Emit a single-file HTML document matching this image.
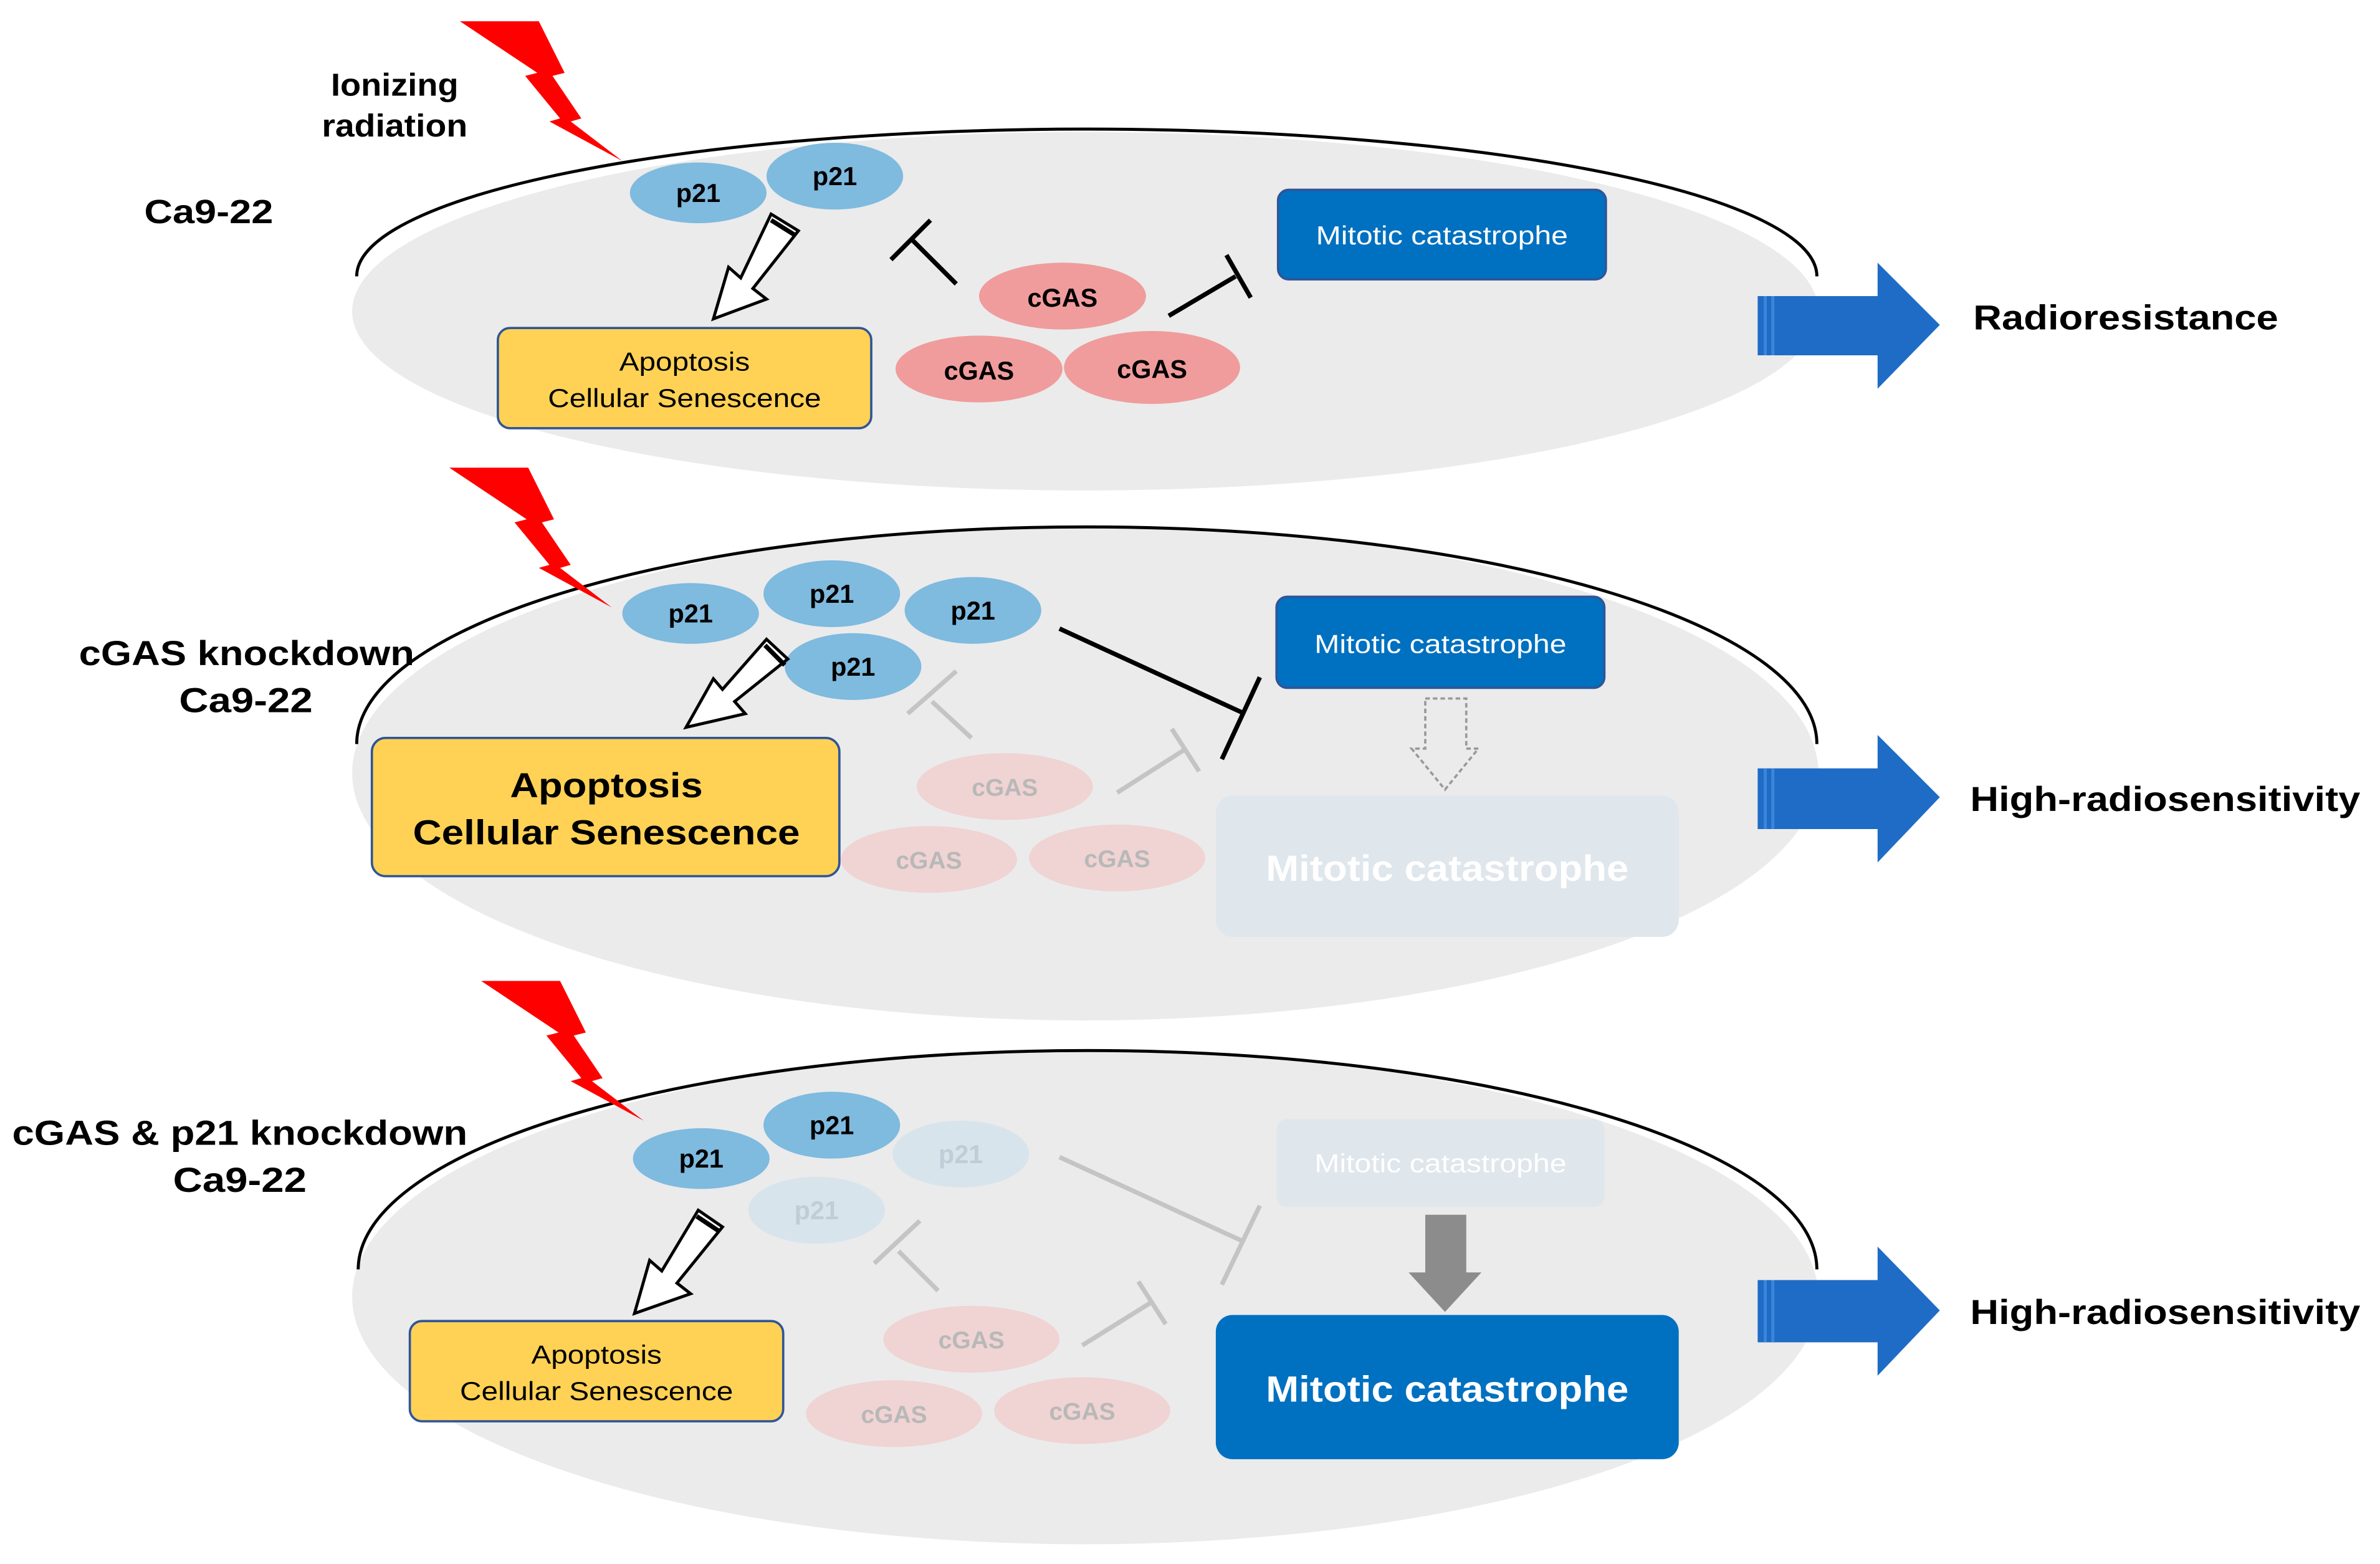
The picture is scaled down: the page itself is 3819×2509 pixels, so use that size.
<!DOCTYPE html>
<html><head><meta charset="utf-8"><style>
html,body{margin:0;padding:0;background:#fff;}
svg{display:block;}
text{font-family:"Liberation Sans",Arial,sans-serif;}
</style></head><body>
<svg width="3819" height="2509" viewBox="0 0 1568 1030" preserveAspectRatio="none" xmlns="http://www.w3.org/2000/svg">

<!-- ===== CELL 1 ===== -->
<ellipse cx="715" cy="205" rx="483" ry="118" fill="#ebebeb"/>
<path d="M235,182 A481,97 0 0 1 1197,182" fill="none" stroke="#000" stroke-width="2"/>
<polygon points="303,14 355,14 372,48 364,50 383,78 376,80 410,106 362,80 369,78 346,50 354,48" fill="#ff0000"/>
<text x="218" y="63" font-size="21" font-weight="bold" textLength="84" lengthAdjust="spacingAndGlyphs">Ionizing</text>
<text x="212" y="90" font-size="21" font-weight="bold" textLength="96" lengthAdjust="spacingAndGlyphs">radiation</text>
<text x="95" y="147" font-size="22" font-weight="bold" textLength="85" lengthAdjust="spacingAndGlyphs">Ca9-22</text>
<ellipse cx="460" cy="127" rx="45" ry="20" fill="#7fbadf"/>
<text x="460" y="133" font-size="17" font-weight="bold" text-anchor="middle">p21</text>
<ellipse cx="550" cy="116" rx="45" ry="22" fill="#7fbadf"/>
<text x="550" y="122" font-size="17" font-weight="bold" text-anchor="middle">p21</text>
<polygon points="508,141 526,152 496,190 505,197 470,210 480,176 488,183" fill="#fff" stroke="#000" stroke-width="2"/>
<line x1="508" y1="145" x2="524" y2="155" stroke="#000" stroke-width="3"/>
<rect x="328" y="216" width="246" height="66" rx="8" fill="#ffd255" stroke="#2f5597" stroke-width="1.5"/>
<text x="408" y="244" font-size="17" textLength="86" lengthAdjust="spacingAndGlyphs">Apoptosis</text>
<text x="361" y="268" font-size="17" textLength="180" lengthAdjust="spacingAndGlyphs">Cellular Senescence</text>
<line x1="630" y1="187" x2="600" y2="157" stroke="#000" stroke-width="3"/>
<line x1="587" y1="171" x2="613" y2="145" stroke="#000" stroke-width="3"/>
<line x1="770" y1="208" x2="814" y2="182" stroke="#000" stroke-width="3"/>
<line x1="808" y1="168" x2="824" y2="196" stroke="#000" stroke-width="3"/>
<ellipse cx="700" cy="195" rx="55" ry="22" fill="#f09c9c"/>
<text x="700" y="202" font-size="17" font-weight="bold" text-anchor="middle">cGAS</text>
<ellipse cx="645" cy="243" rx="55" ry="22" fill="#f09c9c"/>
<text x="645" y="250" font-size="17" font-weight="bold" text-anchor="middle">cGAS</text>
<ellipse cx="759" cy="242" rx="58" ry="24" fill="#f09c9c"/>
<text x="759" y="249" font-size="17" font-weight="bold" text-anchor="middle">cGAS</text>
<rect x="842" y="125" width="216" height="59" rx="7" fill="#0070c0" stroke="#2f5597" stroke-width="1.5"/>
<text x="867" y="161" font-size="17" fill="#fff" textLength="166" lengthAdjust="spacingAndGlyphs">Mitotic catastrophe</text>
<g>
<polygon points="1158,195 1237,195 1237,173 1278,214 1237,256 1237,234 1158,234" fill="#1f6cc6"/>
<line x1="1163" y1="195" x2="1163" y2="234" stroke="#3a86d8" stroke-width="2"/>
<line x1="1168" y1="195" x2="1168" y2="234" stroke="#3a86d8" stroke-width="2"/>
</g>
<text x="1300" y="217" font-size="23" font-weight="bold" textLength="201" lengthAdjust="spacingAndGlyphs">Radioresistance</text>

<!-- ===== CELL 2 ===== -->
<ellipse cx="715" cy="509" rx="483" ry="163" fill="#ebebeb"/>
<path d="M235,490 A481,143 0 0 1 1197,490" fill="none" stroke="#000" stroke-width="2"/>
<polygon points="296,308 348,308 365,342 357,344 376,372 369,374 403,400 355,374 362,372 339,344 347,342" fill="#ff0000"/>
<text x="52" y="438" font-size="23" font-weight="bold" textLength="221" lengthAdjust="spacingAndGlyphs">cGAS knockdown</text>
<text x="118" y="469" font-size="23" font-weight="bold" textLength="88" lengthAdjust="spacingAndGlyphs">Ca9-22</text>
<line x1="640" y1="486" x2="614" y2="462" stroke="#c4c4c4" stroke-width="3"/>
<line x1="598" y1="470" x2="630" y2="442" stroke="#c4c4c4" stroke-width="3"/>
<line x1="736" y1="522" x2="780" y2="494" stroke="#c4c4c4" stroke-width="3"/>
<line x1="772" y1="480" x2="790" y2="508" stroke="#c4c4c4" stroke-width="3"/>
<ellipse cx="662" cy="518" rx="58" ry="22" fill="#f0d3d3"/>
<text x="662" y="524" font-size="16" font-weight="bold" fill="#b8b8b8" text-anchor="middle">cGAS</text>
<ellipse cx="612" cy="566" rx="58" ry="22" fill="#f0d3d3"/>
<text x="612" y="572" font-size="16" font-weight="bold" fill="#b8b8b8" text-anchor="middle">cGAS</text>
<ellipse cx="736" cy="565" rx="58" ry="22" fill="#f0d3d3"/>
<text x="736" y="571" font-size="16" font-weight="bold" fill="#b8b8b8" text-anchor="middle">cGAS</text>
<ellipse cx="455" cy="404" rx="45" ry="20" fill="#7fbadf"/>
<text x="455" y="410" font-size="17" font-weight="bold" text-anchor="middle">p21</text>
<ellipse cx="548" cy="391" rx="45" ry="22" fill="#7fbadf"/>
<text x="548" y="397" font-size="17" font-weight="bold" text-anchor="middle">p21</text>
<ellipse cx="641" cy="402" rx="45" ry="22" fill="#7fbadf"/>
<text x="641" y="408" font-size="17" font-weight="bold" text-anchor="middle">p21</text>
<ellipse cx="562" cy="439" rx="45" ry="22" fill="#7fbadf"/>
<text x="562" y="445" font-size="17" font-weight="bold" text-anchor="middle">p21</text>
<polygon points="505,421 519,434 484,462 491,470 452,479 470,447 476,454" fill="#fff" stroke="#000" stroke-width="2"/>
<line x1="504" y1="425" x2="517" y2="438" stroke="#000" stroke-width="3"/>
<line x1="698" y1="414" x2="820" y2="470" stroke="#000" stroke-width="3"/>
<line x1="830" y1="446" x2="805" y2="500" stroke="#000" stroke-width="3"/>
<rect x="245" y="486" width="308" height="91" rx="9" fill="#ffd255" stroke="#2f5597" stroke-width="1.5"/>
<text x="336" y="525" font-size="23" font-weight="bold" textLength="127" lengthAdjust="spacingAndGlyphs">Apoptosis</text>
<text x="272" y="556" font-size="23" font-weight="bold" textLength="255" lengthAdjust="spacingAndGlyphs">Cellular Senescence</text>
<rect x="841" y="393" width="216" height="60" rx="7" fill="#0070c0" stroke="#2f5597" stroke-width="1.5"/>
<text x="866" y="430" font-size="17" fill="#fff" textLength="166" lengthAdjust="spacingAndGlyphs">Mitotic catastrophe</text>
<polygon points="939,460 966,460 966,493 974,493 952,520 930,493 939,493" fill="none" stroke="#999" stroke-width="1.5" stroke-dasharray="3,2"/>
<rect x="801" y="524" width="305" height="93" rx="11" fill="#dfe6ec"/>
<text x="834" y="580" font-size="24" font-weight="bold" fill="#fff" textLength="239" lengthAdjust="spacingAndGlyphs">Mitotic catastrophe</text>
<g>
<polygon points="1158,506 1237,506 1237,484 1278,525 1237,568 1237,546 1158,546" fill="#1f6cc6"/>
<line x1="1163" y1="506" x2="1163" y2="546" stroke="#3a86d8" stroke-width="2"/>
<line x1="1168" y1="506" x2="1168" y2="546" stroke="#3a86d8" stroke-width="2"/>
</g>
<text x="1298" y="534" font-size="23" font-weight="bold" textLength="257" lengthAdjust="spacingAndGlyphs">High-radiosensitivity</text>

<!-- ===== CELL 3 ===== -->
<ellipse cx="715" cy="854" rx="483" ry="163" fill="#ebebeb"/>
<path d="M236,836 A480,144 0 0 1 1197,836" fill="none" stroke="#000" stroke-width="2"/>
<polygon points="317,646 369,646 386,680 378,682 397,710 390,712 424,738 376,712 383,710 360,682 368,680" fill="#ff0000"/>
<text x="8" y="754" font-size="23" font-weight="bold" textLength="300" lengthAdjust="spacingAndGlyphs">cGAS &amp; p21 knockdown</text>
<text x="114" y="785" font-size="23" font-weight="bold" textLength="88" lengthAdjust="spacingAndGlyphs">Ca9-22</text>
<line x1="618" y1="850" x2="592" y2="824" stroke="#c4c4c4" stroke-width="3"/>
<line x1="576" y1="832" x2="606" y2="804" stroke="#c4c4c4" stroke-width="3"/>
<line x1="713" y1="886" x2="758" y2="858" stroke="#c4c4c4" stroke-width="3"/>
<line x1="750" y1="844" x2="768" y2="872" stroke="#c4c4c4" stroke-width="3"/>
<line x1="698" y1="762" x2="820" y2="818" stroke="#c4c4c4" stroke-width="3"/>
<line x1="830" y1="794" x2="805" y2="846" stroke="#c4c4c4" stroke-width="3"/>
<ellipse cx="640" cy="882" rx="58" ry="22" fill="#f0d3d3"/>
<text x="640" y="888" font-size="16" font-weight="bold" fill="#b8b8b8" text-anchor="middle">cGAS</text>
<ellipse cx="589" cy="931" rx="58" ry="22" fill="#f0d3d3"/>
<text x="589" y="937" font-size="16" font-weight="bold" fill="#b8b8b8" text-anchor="middle">cGAS</text>
<ellipse cx="713" cy="929" rx="58" ry="22" fill="#f0d3d3"/>
<text x="713" y="935" font-size="16" font-weight="bold" fill="#b8b8b8" text-anchor="middle">cGAS</text>
<ellipse cx="633" cy="760" rx="45" ry="22" fill="#d8e4ec"/>
<text x="633" y="766" font-size="17" font-weight="bold" fill="#c0cdd6" text-anchor="middle">p21</text>
<ellipse cx="538" cy="797" rx="45" ry="22" fill="#d8e4ec"/>
<text x="538" y="803" font-size="17" font-weight="bold" fill="#c0cdd6" text-anchor="middle">p21</text>
<ellipse cx="462" cy="763" rx="45" ry="20" fill="#7fbadf"/>
<text x="462" y="769" font-size="17" font-weight="bold" text-anchor="middle">p21</text>
<ellipse cx="548" cy="741" rx="45" ry="22" fill="#7fbadf"/>
<text x="548" y="747" font-size="17" font-weight="bold" text-anchor="middle">p21</text>
<polygon points="460,797 476,808 446,845 455,852 418,865 428,830 436,837" fill="#fff" stroke="#000" stroke-width="2"/>
<line x1="459" y1="801" x2="474" y2="811" stroke="#000" stroke-width="3"/>
<rect x="270" y="870" width="246" height="66" rx="8" fill="#ffd255" stroke="#2f5597" stroke-width="1.5"/>
<text x="350" y="898" font-size="17" textLength="86" lengthAdjust="spacingAndGlyphs">Apoptosis</text>
<text x="303" y="922" font-size="17" textLength="180" lengthAdjust="spacingAndGlyphs">Cellular Senescence</text>
<rect x="841" y="737" width="216" height="58" rx="7" fill="#dfe6ec"/>
<text x="866" y="772" font-size="17" fill="#fff" textLength="166" lengthAdjust="spacingAndGlyphs">Mitotic catastrophe</text>
<polygon points="939,800 966,800 966,838 976,838 952,864 928,838 939,838" fill="#8c8c8c"/>
<rect x="801" y="866" width="305" height="95" rx="11" fill="#0070c0"/>
<text x="834" y="923" font-size="24" font-weight="bold" fill="#fff" textLength="239" lengthAdjust="spacingAndGlyphs">Mitotic catastrophe</text>
<g>
<polygon points="1158,843 1237,843 1237,821 1278,863 1237,906 1237,884 1158,884" fill="#1f6cc6"/>
<line x1="1163" y1="843" x2="1163" y2="884" stroke="#3a86d8" stroke-width="2"/>
<line x1="1168" y1="843" x2="1168" y2="884" stroke="#3a86d8" stroke-width="2"/>
</g>
<text x="1298" y="872" font-size="23" font-weight="bold" textLength="257" lengthAdjust="spacingAndGlyphs">High-radiosensitivity</text>
</svg>
</body></html>
